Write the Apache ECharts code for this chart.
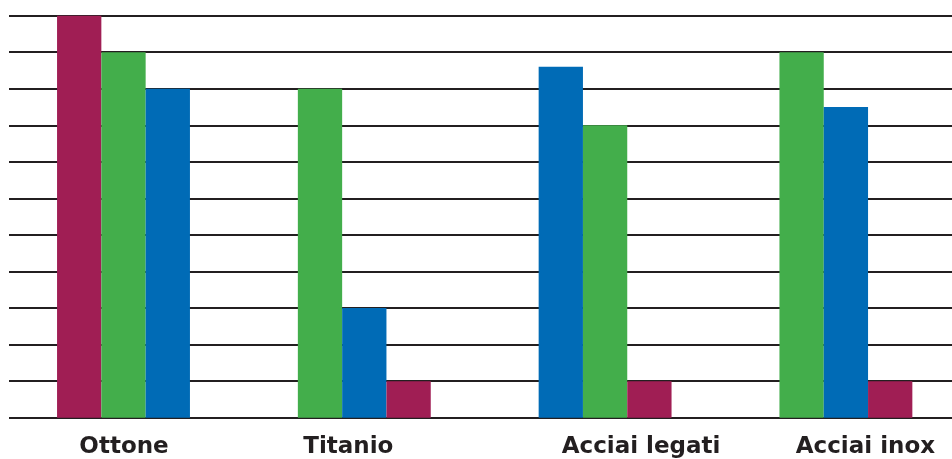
<!DOCTYPE html>
<html>
<head>
<meta charset="utf-8">
<script src="https://cdn.jsdelivr.net/npm/echarts@6/dist/echarts.min.js"></script>
<style>html,body{margin:0;padding:0;background:#fff;overflow:hidden;width:952px;height:459px}#c{width:967px;height:459px}</style>
</head>
<body>
<div id="c"></div>
<script>
var categories = ['Ottone', 'Titanio', 'Acciai legati', 'Acciai inox'];
var magentaValues = [11, 1, 1, 1];
var greenValues = [10, 9, 8, 10];
var blueValues = [9, 3, 9.6, 8.5];
var yTicks = [0, 1, 2, 3, 4, 5, 6, 7, 8, 9, 10, 11];

var seriesDefs = [
  { name: 'magenta', color: '#A01E54', values: magentaValues },
  { name: 'green', color: '#43AE4B', values: greenValues },
  { name: 'blue', color: '#006BB6', values: blueValues }
];

// Each group shows its bars sorted from tallest to shortest
var slots = [[], [], []];
categories.forEach(function (cat, i) {
  var items = seriesDefs.map(function (s) { return { value: s.values[i], color: s.color, name: s.name }; });
  items.sort(function (a, b) { return b.value - a.value; });
  items.forEach(function (it, k) {
    slots[k].push({ value: it.value, name: it.name, itemStyle: { color: it.color } });
  });
});

var richKeys = ['a', 'b', 'c', 'd'];
var labelPad = [[0, 0, 0, 1], [0, 32, 0, 0], [0, 0, 0, 72], [0, 0, 0, 39]];
var rich = {};
richKeys.forEach(function (k, i) {
  rich[k] = { fontFamily: 'DejaVu Sans', fontWeight: 'bold', fontSize: 23, color: '#231F20', padding: labelPad[i] };
});

var chart = echarts.init(document.getElementById('c'), null, { renderer: 'canvas' });
chart.setOption({
  animation: false,
  grid: [
    { left: 9, right: 0, top: 15.7, bottom: 41.3 },
    { left: 3.1, right: 0.7, top: 15.7, bottom: 41.3 }
  ],
  xAxis: [
    { gridIndex: 0, type: 'category', data: categories, show: false },
    {
      gridIndex: 1, type: 'category', data: categories,
      axisLine: { show: false }, axisTick: { show: false },
      axisLabel: {
        margin: 18,
        formatter: function (v) { var i = categories.indexOf(v); return '{' + richKeys[i] + '|' + v + '}'; },
        rich: rich
      }
    }
  ],
  yAxis: [
    {
      gridIndex: 0, type: 'value', min: 0, max: yTicks[yTicks.length - 1], interval: 1,
      axisLabel: { show: false }, axisLine: { show: false }, axisTick: { show: false },
      splitLine: { show: true, lineStyle: { color: '#231F20', width: 2 } }
    },
    {
      gridIndex: 1, type: 'value', min: 0, max: yTicks[yTicks.length - 1], interval: 1,
      show: false, splitLine: { show: false }
    }
  ],
  series: slots.map(function (d) {
    return { type: 'bar', xAxisIndex: 1, yAxisIndex: 1, data: d, barWidth: 44.3, barGap: '0%' };
  })
});
</script>
</body>
</html>
